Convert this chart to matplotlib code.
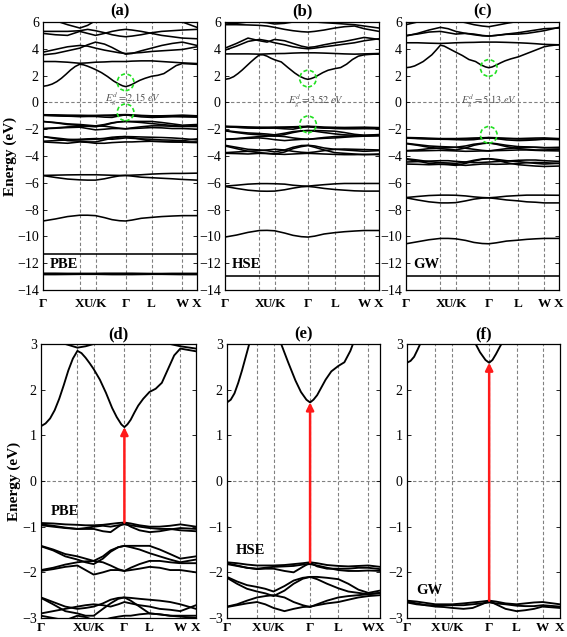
import matplotlib
matplotlib.use("Agg")
import matplotlib.pyplot as plt
from matplotlib.patches import Ellipse
import numpy as np

plt.rcParams['font.family'] = ['Liberation Serif', 'DejaVu Serif']
plt.rcParams['mathtext.fontset'] = 'stix'

# high-symmetry path (labels) and where each panel places them (axes fraction)
tick_labels = ["Γ", "X", "U/K", "Γ", "L", "W", "X"]
ticks_a = [0.0, 0.239, 0.341, 0.536, 0.705, 0.905, 1.0]
ticks_b = [0.0, 0.224, 0.322, 0.539, 0.713, 0.904, 1.0]
ticks_c = [0.0, 0.225, 0.325, 0.541, 0.734, 0.903, 1.0]
ticks_d = [0.0, 0.235, 0.340, 0.538, 0.700, 0.899, 1.0]
ticks_e = [0.0, 0.196, 0.304, 0.543, 0.728, 0.924, 1.0]
ticks_f = [0.0, 0.186, 0.297, 0.537, 0.716, 0.886, 1.0]

# k sampling in path units (0=Γ, 1=X, 2=U/K, 3=Γ, 4=L, 5=W, 6=X)
k_coarse = [0, 1/3, 2/3, 1, 1.5, 2, 2.3, 2.55, 2.8, 3, 3.25, 3.6, 4, 4.33, 4.67, 5, 6]
k_dense = [0, 0.125, 0.25, 0.375, 0.5, 0.625, 0.75, 0.875, 1, 1.25, 1.5, 1.75, 2, 2.2, 2.4,
           2.6, 2.75, 2.9, 3, 3.12, 3.25, 3.4, 3.55, 3.75, 4, 4.2, 4.4, 4.6, 4.8, 5, 5.33, 5.67, 6]

# lowest conduction bands (dense sampling)
pbe_cb = [1.20, 1.26, 1.37, 1.55, 1.80, 2.10, 2.42, 2.68, 2.85, 2.80, 2.70, 2.58, 2.45, 2.22, 1.93,
          1.60, 1.40, 1.24, 1.18, 1.24, 1.34, 1.50, 1.65, 1.80, 1.95, 2.02, 2.15, 2.45, 2.75, 2.90,
          2.88, 2.86, 2.84]
hse_cb = [1.72, 1.78, 1.92, 2.15, 2.42, 2.72, 3.02, 3.30, 3.55, 3.55, 3.45, 3.30, 3.18, 3.02, 2.60,
          2.20, 1.95, 1.78, 1.72, 1.78, 1.88, 2.05, 2.22, 2.40, 2.52, 2.60, 2.85, 3.20, 3.45, 3.55,
          3.58, 3.60, 3.60]
gw_cb = [2.59, 2.63, 2.72, 2.88, 3.05, 3.30, 3.55, 3.90, 4.27, 4.20, 4.05, 3.90, 3.75, 3.50, 3.20,
         3.05, 2.82, 2.65, 2.59, 2.65, 2.78, 2.95, 3.10, 3.25, 3.40, 3.55, 3.70, 3.85, 4.00, 4.15,
         4.22, 4.27, 4.30]

# ---------------- PBE (other bands) ----------------
pbe_bands = [
    [3.05, 3.05, 3.00, 2.92, 2.95, 3.00, 3.02, 3.05, 3.05, 3.05, 3.08, 3.10, 3.10, 3.05, 3.00, 2.95, 2.90],
    [3.75, 3.95, 4.15, 4.25, 4.20, 4.05, 3.90, 3.80, 3.70, 3.65, 3.68, 3.72, 3.80, 3.85, 3.90, 3.95, 4.15],
    [3.55, 3.65, 3.85, 4.05, 4.30, 4.50, 4.35, 4.10, 3.80, 3.60, 3.65, 3.85, 4.05, 4.25, 4.40, 4.50, 4.25],
    [5.15, 5.05, 5.00, 5.30, 5.15, 5.00, 5.15, 5.30, 5.40, 5.45, 5.40, 5.30, 5.15, 5.00, 4.90, 4.80, 4.75],
    [5.30, 5.30, 5.30, 5.35, 5.45, 5.35, 5.20, 5.05, 4.95, 4.90, 4.95, 5.05, 5.20, 5.30, 5.35, 5.40, 5.45],
    [6.30, 6.10, 5.80, 5.55, 5.75, 6.10, 6.40, 6.60, 6.60, 6.60, 6.60, 6.40, 6.05, 6.00, 6.20, 6.00, 5.60],
    [-0.92, -0.93, -0.95, -0.96, -0.97, -0.97, -0.96, -0.94, -0.92, -0.91, -0.93, -0.97, -1.00, -1.00, -0.98, -0.95, -1.00],
    [-0.95, -0.98, -1.02, -1.05, -1.05, -1.05, -1.10, -1.12, -1.00, -0.92, -1.00, -1.08, -1.12, -1.10, -1.06, -1.03, -1.05],
    [-0.97, -1.00, -1.03, -1.05, -1.03, -1.00, -0.98, -1.00, -0.97, -0.95, -0.97, -1.00, -1.03, -1.05, -1.05, -1.08, -1.10],
    [-1.42, -1.50, -1.60, -1.65, -1.70, -1.75, -1.65, -1.52, -1.45, -1.42, -1.42, -1.42, -1.42, -1.50, -1.60, -1.70, -1.65],
    [-1.43, -1.52, -1.65, -1.72, -1.78, -1.82, -1.70, -1.55, -1.45, -1.42, -1.45, -1.50, -1.58, -1.65, -1.72, -1.78, -1.72],
    [-1.95, -1.90, -1.83, -1.78, -1.76, -1.75, -1.78, -1.85, -1.93, -1.97, -1.90, -1.82, -1.75, -1.75, -1.78, -1.80, -1.80],
    [-1.97, -1.93, -1.88, -1.85, -1.95, -2.05, -2.00, -1.95, -1.95, -1.97, -1.95, -1.92, -1.88, -1.90, -1.95, -1.95, -2.00],
    [-2.55, -2.65, -2.75, -2.80, -2.78, -2.75, -2.68, -2.60, -2.56, -2.55, -2.56, -2.58, -2.60, -2.62, -2.65, -2.70, -2.80],
    [-2.56, -2.70, -2.85, -2.90, -2.95, -2.95, -2.80, -2.68, -2.58, -2.55, -2.62, -2.75, -2.90, -2.92, -2.95, -2.95, -2.95],
    [-2.90, -2.85, -2.80, -2.75, -2.72, -2.70, -2.72, -2.75, -2.70, -2.65, -2.68, -2.72, -2.75, -2.80, -2.82, -2.85, -2.72],
    [-2.95, -3.00, -3.05, -2.95, -2.98, -3.05, -3.05, -3.00, -2.97, -2.95, -2.95, -2.92, -2.90, -2.92, -2.95, -2.97, -3.00],
    [-5.45, -5.43, -5.41, -5.40, -5.40, -5.40, -5.42, -5.44, -5.45, -5.45, -5.43, -5.40, -5.35, -5.32, -5.30, -5.30, -5.28],
    [-5.46, -5.60, -5.72, -5.78, -5.80, -5.80, -5.70, -5.58, -5.48, -5.45, -5.50, -5.58, -5.62, -5.66, -5.70, -5.75, -5.80],
    [-8.85, -8.70, -8.52, -8.42, -8.42, -8.45, -8.60, -8.75, -8.83, -8.85, -8.78, -8.65, -8.58, -8.52, -8.48, -8.45, -8.45],
    [-11.30] * 17,
    [-12.75, -12.75, -12.76, -12.76, -12.76, -12.76, -12.75, -12.75, -12.75, -12.75, -12.75, -12.76, -12.77, -12.77, -12.76, -12.76, -12.76],
    [-12.85, -12.85, -12.84, -12.83, -12.83, -12.83, -12.84, -12.85, -12.85, -12.85, -12.85, -12.84, -12.83, -12.83, -12.84, -12.85, -12.85],
]

# ---------------- HSE (other bands) ----------------
hse_bands = [
    [3.62, 3.62, 3.62, 3.60, 3.62, 3.64, 3.65, 3.68, 3.70, 3.70, 3.70, 3.68, 3.65, 3.62, 3.60, 3.62, 3.65],
    [3.90, 4.20, 4.55, 4.70, 4.60, 4.45, 4.30, 4.15, 4.05, 4.00, 4.05, 4.15, 4.25, 4.35, 4.45, 4.60, 4.75],
    [4.05, 4.40, 4.80, 4.60, 4.50, 4.70, 4.60, 4.40, 4.20, 4.10, 4.15, 4.30, 4.45, 4.55, 4.70, 4.85, 4.70],
    [5.80, 5.80, 5.78, 5.75, 5.70, 5.60, 5.45, 5.35, 5.28, 5.25, 5.30, 5.40, 5.55, 5.65, 5.70, 5.50, 5.30],
    [5.85, 5.90, 6.00, 6.00, 5.95, 5.85, 5.90, 6.00, 6.05, 6.05, 6.00, 5.95, 5.90, 5.85, 5.80, 5.70, 5.55],
    [-1.78, -1.80, -1.83, -1.85, -1.85, -1.85, -1.84, -1.82, -1.80, -1.78, -1.80, -1.84, -1.86, -1.87, -1.86, -1.85, -1.88],
    [-1.80, -1.85, -1.90, -1.93, -1.92, -1.92, -1.97, -2.00, -1.88, -1.79, -1.87, -1.92, -1.92, -1.92, -1.90, -1.90, -1.93],
    [-1.82, -1.86, -1.90, -1.92, -1.90, -1.88, -1.87, -1.86, -1.83, -1.82, -1.85, -1.90, -1.95, -1.97, -1.97, -1.96, -1.97],
    [-2.10, -2.20, -2.28, -2.32, -2.36, -2.42, -2.30, -2.18, -2.12, -2.10, -2.10, -2.12, -2.15, -2.25, -2.38, -2.45, -2.40],
    [-2.12, -2.25, -2.36, -2.42, -2.46, -2.52, -2.40, -2.25, -2.14, -2.10, -2.15, -2.25, -2.35, -2.42, -2.45, -2.48, -2.45],
    [-2.75, -2.70, -2.62, -2.55, -2.52, -2.50, -2.55, -2.65, -2.72, -2.76, -2.70, -2.62, -2.55, -2.52, -2.50, -2.48, -2.45],
    [-2.76, -2.72, -2.68, -2.65, -2.70, -2.78, -2.85, -2.80, -2.76, -2.75, -2.72, -2.68, -2.65, -2.60, -2.55, -2.52, -2.50],
    [-3.20, -3.35, -3.50, -3.55, -3.60, -3.70, -3.55, -3.35, -3.22, -3.20, -3.25, -3.40, -3.50, -3.55, -3.60, -3.65, -3.60],
    [-3.25, -3.45, -3.65, -3.75, -3.80, -3.85, -3.70, -3.45, -3.30, -3.22, -3.35, -3.55, -3.75, -3.80, -3.85, -3.90, -3.85],
    [-3.75, -3.70, -3.65, -3.60, -3.55, -3.50, -3.55, -3.65, -3.72, -3.75, -3.70, -3.60, -3.50, -3.48, -3.50, -3.52, -3.55],
    [-3.80, -3.82, -3.85, -3.80, -3.82, -3.85, -3.88, -3.85, -3.82, -3.80, -3.82, -3.85, -3.88, -3.90, -3.90, -3.88, -3.90],
    [-6.25, -6.18, -6.10, -6.06, -6.06, -6.07, -6.10, -6.18, -6.23, -6.25, -6.20, -6.14, -6.08, -6.05, -6.05, -6.05, -6.05],
    [-6.27, -6.42, -6.55, -6.62, -6.63, -6.62, -6.52, -6.40, -6.30, -6.27, -6.32, -6.42, -6.50, -6.55, -6.60, -6.62, -6.62],
    [-10.05, -9.90, -9.70, -9.56, -9.55, -9.58, -9.75, -9.92, -10.02, -10.05, -9.98, -9.82, -9.72, -9.65, -9.60, -9.56, -9.56],
    [-12.95] * 17,
]

# ---------------- GW (other bands) ----------------
gw_bands = [
    [4.45, 4.45, 4.42, 4.40, 4.42, 4.45, 4.47, 4.48, 4.50, 4.50, 4.50, 4.48, 4.45, 4.42, 4.38, 4.33, 4.30],
    [4.95, 5.15, 5.40, 5.60, 5.50, 5.30, 5.15, 5.05, 4.97, 4.95, 5.00, 5.08, 5.10, 5.15, 5.25, 5.35, 5.60],
    [5.00, 5.10, 5.25, 5.30, 5.20, 5.10, 5.15, 5.10, 5.00, 4.95, 5.00, 5.10, 5.20, 5.30, 5.40, 5.50, 5.55],
    [5.80, 6.00, 6.20, 6.30, 6.20, 6.10, 5.95, 5.80, 5.70, 5.65, 5.75, 5.90, 6.05, 6.20, 6.30, 6.30, 6.20],
    [-2.62, -2.64, -2.67, -2.70, -2.70, -2.70, -2.68, -2.66, -2.64, -2.62, -2.64, -2.68, -2.70, -2.68, -2.66, -2.65, -2.70],
    [-2.64, -2.68, -2.72, -2.75, -2.76, -2.78, -2.80, -2.78, -2.70, -2.63, -2.70, -2.80, -2.85, -2.83, -2.80, -2.75, -2.78],
    [-2.66, -2.70, -2.72, -2.72, -2.72, -2.72, -2.72, -2.70, -2.68, -2.66, -2.68, -2.70, -2.73, -2.74, -2.74, -2.72, -2.75],
    [-3.05, -3.15, -3.25, -3.30, -3.32, -3.35, -3.25, -3.12, -3.05, -3.02, -3.08, -3.20, -3.30, -3.32, -3.35, -3.38, -3.35],
    [-3.08, -3.20, -3.35, -3.45, -3.50, -3.55, -3.40, -3.20, -3.08, -3.03, -3.12, -3.30, -3.45, -3.50, -3.55, -3.55, -3.50],
    [-3.60, -3.55, -3.45, -3.40, -3.38, -3.35, -3.42, -3.50, -3.58, -3.62, -3.55, -3.45, -3.38, -3.35, -3.35, -3.38, -3.40],
    [-3.62, -3.62, -3.60, -3.58, -3.60, -3.62, -3.65, -3.64, -3.62, -3.62, -3.60, -3.58, -3.55, -3.55, -3.58, -3.60, -3.62],
    [-4.20, -4.30, -4.42, -4.50, -4.52, -4.55, -4.45, -4.32, -4.22, -4.20, -4.25, -4.35, -4.42, -4.48, -4.55, -4.60, -4.55],
    [-4.25, -4.38, -4.55, -4.62, -4.65, -4.70, -4.55, -4.38, -4.25, -4.20, -4.30, -4.50, -4.65, -4.70, -4.75, -4.78, -4.75],
    [-4.45, -4.42, -4.38, -4.35, -4.35, -4.40, -4.45, -4.50, -4.48, -4.45, -4.42, -4.38, -4.32, -4.30, -4.30, -4.35, -4.40],
    [-4.60, -4.62, -4.65, -4.62, -4.60, -4.65, -4.70, -4.65, -4.60, -4.60, -4.62, -4.60, -4.55, -4.50, -4.48, -4.50, -4.55],
    [-7.10, -7.02, -6.95, -6.92, -6.92, -6.93, -6.98, -7.05, -7.10, -7.12, -7.08, -7.00, -6.95, -6.92, -6.92, -6.92, -6.93],
    [-7.12, -7.28, -7.42, -7.50, -7.50, -7.48, -7.35, -7.22, -7.14, -7.12, -7.18, -7.28, -7.35, -7.42, -7.45, -7.50, -7.50],
    [-10.55, -10.40, -10.25, -10.15, -10.15, -10.18, -10.30, -10.45, -10.53, -10.55, -10.48, -10.35, -10.28, -10.22, -10.18, -10.15, -10.15],
    [-12.95] * 17,
]

methods = ["PBE", "HSE", "GW"]
cb_list = [pbe_cb, hse_cb, gw_cb]
all_bands = [pbe_bands, hse_bands, gw_bands]
top_ticks = [ticks_a, ticks_b, ticks_c]
bot_ticks = [ticks_d, ticks_e, ticks_f]
gaps = ["2.15", "3.52", "5.13"]
vbm = [-0.91, -1.78, -2.62]
cbm = [1.18, 1.72, 2.59]
circ_cb = [1.50, 1.78, 2.57]
circ_vb = [-0.74, -1.64, -2.42]
gap_text_u = [3.3, 3.3, 3.0]
gap_text_y = [0.26, 0.05, 0.05]
top_titles = ["(a)", "(b)", "(c)"]
bot_titles = ["(d)", "(e)", "(f)"]

W, H = 567, 637
fig = plt.figure(figsize=(W / 100, H / 100), dpi=100)

top_lefts = [43, 225, 406]
top_widths = [154, 154, 153]
bot_lefts = [41, 227, 407]
bot_widths = [155, 153, 153]
top_y0, top_y1 = 22, 290
bot_y0, bot_y1 = 344, 618

green = '#22e022'
path_idx = list(range(7))


def kx(u, ticks):
    return np.interp(u, path_idx, ticks)


def style_axes(ax, ylim, yticks, ticks, xpad):
    ax.set_xlim(0, 1)
    ax.set_ylim(*ylim)
    for p in ticks[1:-1]:
        ax.axvline(p, color='#808080', ls=(0, (3, 2)), lw=0.8, zorder=1)
    ax.axhline(0, color='#808080', ls=(0, (3, 2)), lw=0.8, zorder=1)
    ax.set_xticks(ticks)
    ax.set_xticklabels(tick_labels, fontweight='bold', fontsize=9.5)
    ax.set_yticks(yticks)
    ax.tick_params(axis='x', length=0, pad=xpad)
    ax.tick_params(axis='y', direction='in', length=3, width=0.6, right=True,
                   labelsize=10, pad=3)
    for s in ax.spines.values():
        s.set_linewidth(0.9)


def draw_bands(ax, i, ticks, lw):
    ax.plot(kx(k_dense, ticks), cb_list[i], color='black', lw=lw, zorder=3)
    for b in all_bands[i]:
        ax.plot(kx(k_coarse, ticks), b, color='black', lw=lw, zorder=3)


for i in range(3):
    # top panels
    tt = top_ticks[i]
    ax = fig.add_axes([top_lefts[i] / W, 1 - top_y1 / H, top_widths[i] / W, (top_y1 - top_y0) / H])
    style_axes(ax, (-14, 6), np.arange(-14, 7, 2), tt, 6)
    draw_bands(ax, i, tt, 1.15)
    ax.set_title(top_titles[i], fontweight='bold', fontsize=12, pad=5)
    ax.text(0.045, -12.1, methods[i], fontweight='bold', fontsize=10.5, va='center', ha='left', zorder=5)
    r_px = 8.3
    ew = 2 * r_px / top_widths[i]
    eh = 2 * r_px / (top_y1 - top_y0) * 20.0
    for cy in (circ_cb[i], circ_vb[i]):
        e = Ellipse((tt[3], cy), ew, eh, fill=False, edgecolor=green,
                    ls=(0, (2.5, 1.5)), lw=1.2, zorder=6)
        ax.add_patch(e)
    ax.text(kx(gap_text_u[i], tt), gap_text_y[i], r'$E_g^d = %s\ eV$' % gaps[i], fontsize=7.5,
            color='#555555', ha='center', va='center', zorder=5)
    if i == 0:
        ax.set_ylabel('Energy (eV)', fontweight='bold', fontsize=11, labelpad=0)

    # bottom panels
    bt = bot_ticks[i]
    ax2 = fig.add_axes([bot_lefts[i] / W, 1 - bot_y1 / H, bot_widths[i] / W, (bot_y1 - bot_y0) / H])
    style_axes(ax2, (-3, 3), np.arange(-3, 4, 1), bt, 3)
    draw_bands(ax2, i, bt, 1.35)
    ax2.set_title(bot_titles[i], fontweight='bold', fontsize=12, pad=4)
    lbl_y = [-0.67, -1.53, -2.4][i]
    ax2.text(0.06, lbl_y, methods[i], fontweight='bold', fontsize=10.5, va='center', ha='left', zorder=5)
    ax2.annotate('', xy=(bt[3], cbm[i]), xytext=(bt[3], vbm[i]),
                 arrowprops=dict(arrowstyle='-|>', color='#ff1a1a', lw=1.8,
                                 mutation_scale=11, shrinkA=0, shrinkB=0), zorder=7)
    if i == 0:
        ax2.set_ylabel('Energy (eV)', fontweight='bold', fontsize=11, labelpad=1)

fig.savefig('out.png', dpi=100)
